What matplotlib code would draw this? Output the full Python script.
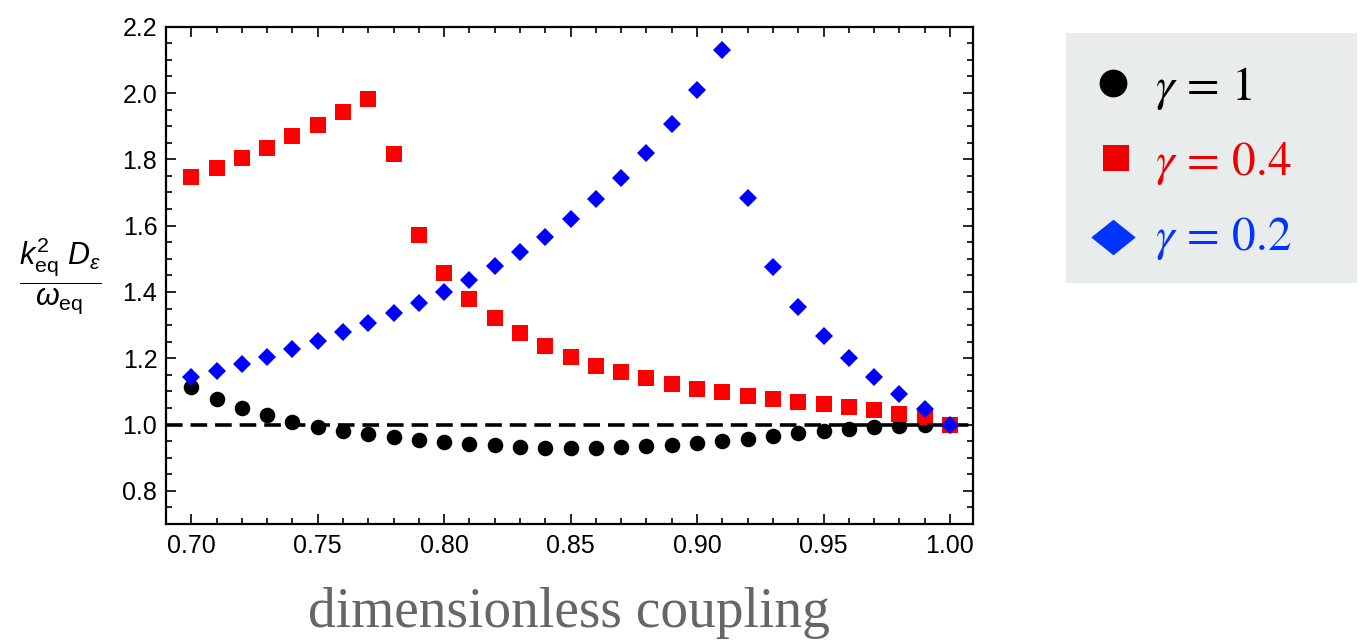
import numpy as np
import matplotlib
matplotlib.use("Agg")
import matplotlib.pyplot as plt
from matplotlib.ticker import MultipleLocator

plt.rcParams['font.family'] = ['Liberation Sans', 'DejaVu Sans']
plt.rcParams['mathtext.fontset'] = 'custom'
plt.rcParams['mathtext.rm'] = 'Liberation Sans'
plt.rcParams['mathtext.it'] = 'Liberation Sans:italic'
plt.rcParams['mathtext.bf'] = 'Liberation Sans:bold'

# data
coupling = [0.70, 0.71, 0.72, 0.73, 0.74, 0.75, 0.76, 0.77, 0.78, 0.79,
            0.80, 0.81, 0.82, 0.83, 0.84, 0.85, 0.86, 0.87, 0.88, 0.89,
            0.90, 0.91, 0.92, 0.93, 0.94, 0.95, 0.96, 0.97, 0.98, 0.99, 1.00]
gamma_1 = [1.113, 1.076, 1.050, 1.028, 1.008, 0.993, 0.980, 0.970, 0.961, 0.952,
           0.947, 0.942, 0.937, 0.933, 0.930, 0.929, 0.929, 0.931, 0.934, 0.938,
           0.943, 0.949, 0.956, 0.965, 0.974, 0.980, 0.987, 0.994, 0.997, 1.000, 1.000]
gamma_04 = [1.746, 1.773, 1.803, 1.835, 1.870, 1.905, 1.943, 1.983, 1.816, 1.573,
            1.458, 1.380, 1.320, 1.275, 1.237, 1.205, 1.177, 1.158, 1.139, 1.122,
            1.108, 1.097, 1.087, 1.077, 1.068, 1.062, 1.052, 1.043, 1.032, 1.023, 1.000]
gamma_02 = [1.142, 1.162, 1.183, 1.205, 1.228, 1.253, 1.280, 1.305, 1.336, 1.367,
            1.400, 1.437, 1.477, 1.520, 1.567, 1.620, 1.680, 1.745, 1.820, 1.907,
            2.010, 2.130, 1.682, 1.475, 1.355, 1.268, 1.200, 1.143, 1.092, 1.047, 1.000]

legend_labels = [r'$\gamma\,=\,1$', r'$\gamma\,=\,0.4$', r'$\gamma\,=\,0.2$']
legend_colors = ['black', '#ee0000', '#0033ff']

W, H = 1362, 642
fig = plt.figure(figsize=(W / 100, H / 100), dpi=100)
ax = fig.add_axes([165.7 / W, 1 - 524 / H, (973 - 165.7) / W, (524 - 26.7) / H])

ax.plot(coupling, gamma_1, 'o', color='black', ms=11.2, mew=0, zorder=3)
ax.plot(coupling, gamma_04, 's', color='#ff0000', ms=12.2, mew=0, zorder=4)
ax.axhline(1.0, color='black', lw=2.6, ls=(0, (4.6, 2.2)), zorder=5)
ax.plot(coupling, gamma_02, 'D', color='#0000ff', ms=8.9, mew=0, zorder=6)

ax.set_xlim(0.6899, 1.0091)
ax.set_ylim(0.70, 2.20)
ax.xaxis.set_major_locator(MultipleLocator(0.05))
ax.xaxis.set_minor_locator(MultipleLocator(0.01))
ax.yaxis.set_major_locator(MultipleLocator(0.2))
ax.yaxis.set_minor_locator(MultipleLocator(0.05))
ax.xaxis.set_major_formatter(plt.FuncFormatter(lambda v, p: f'{v:.2f}'))
ax.yaxis.set_major_formatter(plt.FuncFormatter(lambda v, p: f'{v:.1f}'))
ax.tick_params(which='both', direction='in', top=True, right=True, width=1.2, colors='black')
ax.tick_params(which='major', length=7, labelsize=18)
ax.tick_params(which='minor', length=4)
ax.tick_params(axis='x', pad=7)
ax.tick_params(axis='y', pad=6)
for s in ax.spines.values():
    s.set_linewidth(1.6)

ax.set_ylabel(r'$\dfrac{k_{\mathrm{eq}}^{2}\ D_{\varepsilon}}{\omega_{\mathrm{eq}}}$',
              rotation=0, fontsize=22, ha='center', va='center')
ax.yaxis.set_label_coords(-0.131, 0.5)
ax.set_xlabel('dimensionless coupling', family='Liberation Serif', fontsize=40, color='#666666')
ax.xaxis.label.set_va('baseline')
ax.xaxis.set_label_coords(0.5, -0.207)

# legend panel
lax = fig.add_axes([1066 / W, 1 - 283 / H, 291 / W, 250 / H])
lax.set_facecolor('#e9eced')
for s in lax.spines.values():
    s.set_visible(False)
lax.set_xticks([])
lax.set_yticks([])
lax.set_xlim(0, 1)
lax.set_ylim(1, 0)
rows = [0.2, 0.5, 0.816]
baselines = [0.268, 0.568, 0.868]
lax.plot([0.162], [rows[0]], 'o', color='black', ms=20, mew=0)
lax.plot([0.172], [rows[1]], 's', color='#ee0000', ms=19.2, mew=0)
diamond = [(-1, 0), (0, 0.8), (1, 0), (0, -0.8), (-1, 0)]
lax.plot([0.162], [rows[2]], marker=diamond, ls='none', color='#0033ff', ms=32, mew=0)
for lab, col, yb in zip(legend_labels, legend_colors, baselines):
    lax.text(0.306, yb, lab, color=col, fontsize=34, math_fontfamily='stix',
             ha='left', va='baseline')

fig.savefig('out.png', dpi=100)
